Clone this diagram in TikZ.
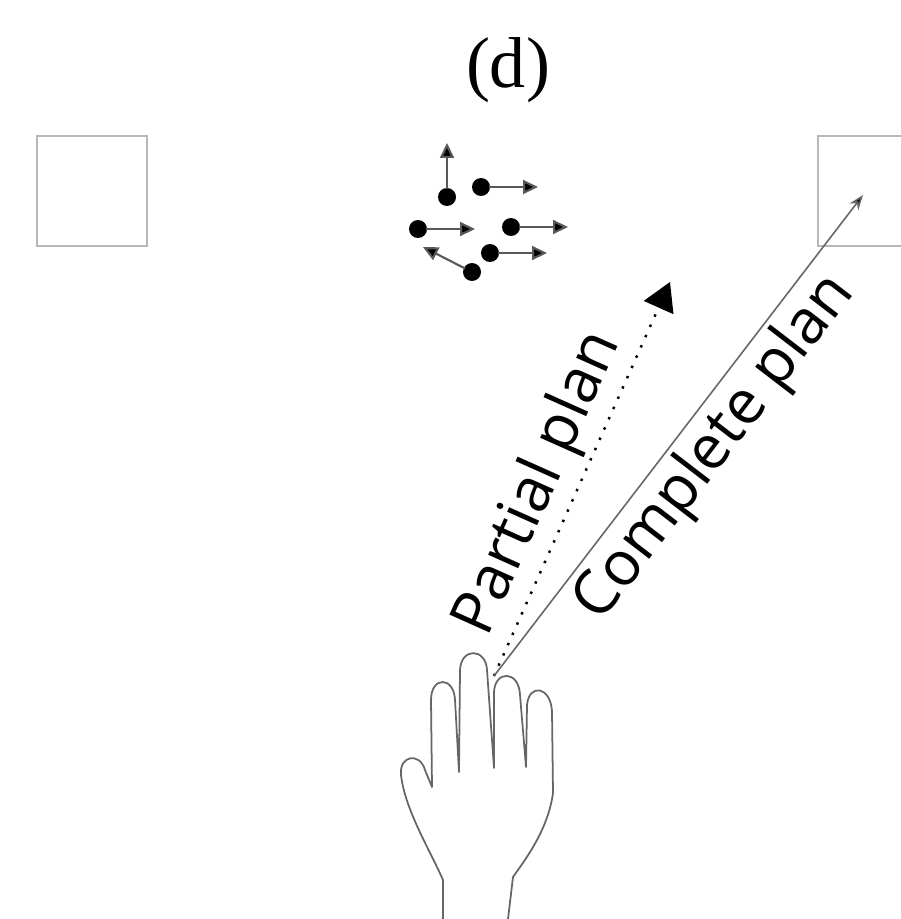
\documentclass[tikz,border=0pt]{standalone}
\usepackage{fontspec}
\setsansfont{Open Sans}
\newfontfamily\titlefont{Liberation Serif}
\usetikzlibrary{arrows.meta}

\begin{document}
\begin{tikzpicture}[
  x=0.02cm,y=-0.02cm,
  target/.style={draw=black!28,line width=1.5pt,minimum size=2.2cm,inner sep=0pt},
  particle/.style={circle,fill=black,minimum size=0.36cm,inner sep=0pt},
  vel/.style={-{Triangle[length=0.3cm,width=0.28cm,fill=black]},draw=black!65,line width=1.2pt,shorten <=-1pt},
  complete/.style={-{Stealth[length=0.3cm,width=0.22cm,fill=black]},draw=black!60,line width=0.9pt},
  partial/.style={-{Triangle[length=0.56cm,width=0.64cm]},line width=1.4pt,dash pattern=on 1.4pt off 5pt},
  lbl/.style={font=\sffamily\fontsize{35}{40}\selectfont,sloped,inner sep=3pt},
  handline/.style={draw=black!60,line width=1pt,line join=round},
]
\useasboundingbox (0,0) rectangle (900,919);

\node[font=\titlefont\fontsize{41}{46}\selectfont] (title) at (508,70) {(d)};

% the two squares; the right one runs off the edge
\node[target] (leftbox)  at (92,191)  {};
\node[target] (rightbox) at (873,191) {};

% swarm of points with their velocities
\foreach \px/\py/\tx/\ty [count=\i] in
  {447/197/447/143, 481/187/538/187, 418/229/475/229,
   511/227/568/227, 490/253/547/253, 472/272/423/247}{
  \node[particle] (p\i) at (\px,\py) {};
  \coordinate (v\i) at (\tx,\ty);
  \draw[vel] (p\i) -- (v\i);
}

% hand outline, thumb first, then four fingers
\draw[handline] (443,919) -- (443,880)
  .. controls (430,850) and (405,810) .. (401,775)
  .. controls (399,755) and (420,752) .. (425,770) -- (432,787)
  -- (431,700) .. controls (431,676) and (454,676) .. (455,700) -- (459,772)
  -- (460,670) .. controls (461,647) and (486,648) .. (487,670) -- (494,768)
  -- (494,692) .. controls (495,670) and (519,670) .. (520,695) -- (526,767)
  -- (527,705) .. controls (529,683) and (551,686) .. (552,712) -- (553,793)
  .. controls (548,830) and (525,860) .. (513,877) -- (508,919);

\coordinate (fingertip) at (494,676);
\coordinate (subgoal) at (670,282);
\coordinate (goal) at (863,195);

\draw[partial] (fingertip) -- node[lbl,above,pos=0.45] {Partial plan} (subgoal);
\draw[complete] (fingertip) -- node[lbl,below,pos=0.52] {Complete plan} (goal);
\end{tikzpicture}
\end{document}
